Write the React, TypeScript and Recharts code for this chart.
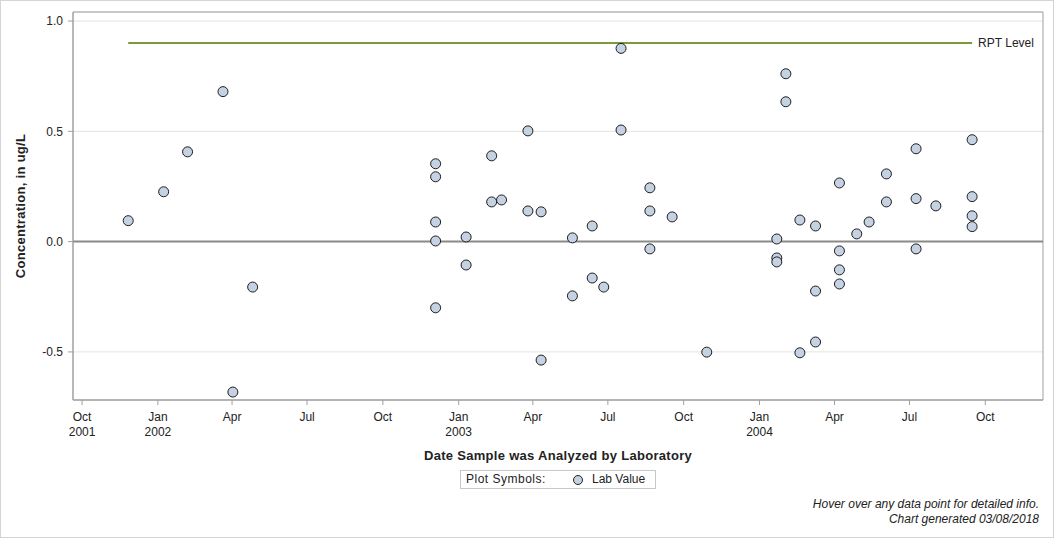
import React from 'react';
import {CartesianGrid, ReferenceArea, ReferenceLine, Scatter, ScatterChart, XAxis, YAxis} from 'recharts';

// lab results, one date per value
const sampleDates = [
  '2001-11-26', '2002-01-08', '2002-02-06', '2002-03-21', '2002-04-02', '2002-04-26',
  '2002-12-04', '2002-12-04', '2002-12-04', '2002-12-04', '2002-12-04',
  '2003-01-10', '2003-01-10', '2003-02-10', '2003-02-10', '2003-02-22',
  '2003-03-26', '2003-03-26', '2003-04-11', '2003-04-11', '2003-05-19', '2003-05-19',
  '2003-06-12', '2003-06-12', '2003-06-26', '2003-07-17', '2003-07-17',
  '2003-08-21', '2003-08-21', '2003-08-21', '2003-09-17', '2003-10-29',
  '2004-01-22', '2004-01-22', '2004-01-22', '2004-02-02', '2004-02-02',
  '2004-02-19', '2004-02-19', '2004-03-09', '2004-03-09', '2004-03-09',
  '2004-04-07', '2004-04-07', '2004-04-07', '2004-04-07', '2004-04-28', '2004-05-13',
  '2004-06-03', '2004-06-03', '2004-07-09', '2004-07-09', '2004-07-09', '2004-08-02',
  '2004-09-15', '2004-09-15', '2004-09-15', '2004-09-15',
];
const labValues = [
  0.095, 0.226, 0.407, 0.68, -0.682, -0.206,
  0.353, 0.294, 0.089, 0.003, -0.3,
  0.021, -0.106, 0.389, 0.18, 0.189,
  0.502, 0.139, 0.135, -0.537, 0.017, -0.246,
  0.071, -0.165, -0.206, 0.876, 0.506,
  0.244, 0.139, -0.033, 0.112, -0.501,
  0.012, -0.074, -0.092, 0.761, 0.634,
  0.098, -0.504, 0.071, -0.224, -0.455,
  0.266, -0.042, -0.128, -0.192, 0.035, 0.089,
  0.307, 0.18, 0.421, 0.195, -0.033, 0.162,
  0.462, 0.204, 0.117, 0.068,
];
const xTickDates = [
  '2001-10-01', '2002-01-01', '2002-04-01', '2002-07-01', '2002-10-01',
  '2003-01-01', '2003-04-01', '2003-07-01', '2003-10-01',
  '2004-01-01', '2004-04-01', '2004-07-01', '2004-10-01',
];
const xRange = ['2001-09-20', '2004-12-10'];
const yTicks = [-0.5, 0, 0.5, 1.0];
const yDomain = [-0.718, 1.041];
const rptLevel = 0.9;
const monthNames = ['Jan', 'Feb', 'Mar', 'Apr', 'May', 'Jun', 'Jul', 'Aug', 'Sep', 'Oct', 'Nov', 'Dec'];

const FONT = '"Liberation Sans", Arial, sans-serif';
const TEXT = '#222';
const FRAME = '#a0a0a0';

const toTime = (d: string) => {
  const [y, m, dd] = d.split('-').map(Number);
  return Date.UTC(y, m - 1, dd);
};

const points = sampleDates.map((d, i) => ({date: toTime(d), value: labValues[i]}));
const xTicks = xTickDates.map(toTime);
const xDomain = xRange.map(toTime);
const rptStart = Math.min(...points.map(p => p.date));
const rptEnd = Math.max(...points.map(p => p.date));

function DateTick({x, y, payload}: any) {
  const d = new Date(payload.value);
  const showYear = payload.value === xTicks[0] || d.getUTCMonth() === 0;
  return (
    <text x={x} y={y} textAnchor="middle" fill={TEXT} fontSize={12} fontFamily={FONT}>
      <tspan x={x} dy={14}>{monthNames[d.getUTCMonth()]}</tspan>
      {showYear && <tspan x={x} dy={15}>{d.getUTCFullYear()}</tspan>}
    </text>
  );
}

function Dot({cx, cy}: any) {
  return <circle cx={cx} cy={cy} r={5} fill="#c5d2e3" stroke="#1e1e1e" strokeWidth={1}/>;
}

const titleStyle: React.CSSProperties = {
  position: 'absolute', whiteSpace: 'nowrap', fontWeight: 'bold', fontSize: 13, letterSpacing: 0.3,
};

export default function App() {
  return (
    <div style={{position: 'absolute', left: 0, top: 0, width: 1056, height: 538, background: '#fff', fontFamily: FONT, color: TEXT}}>
      <div style={{position: 'absolute', left: 0, top: 0, width: 1052, height: 536, border: '1px solid #d4d4d4'}}/>
      <ScatterChart width={1056} height={538} margin={{top: 12, right: 13, left: 13, bottom: 98}}>
        <CartesianGrid horizontal vertical={false} stroke="#e3e3e3"/>
        <XAxis
          dataKey="date"
          type="number"
          domain={xDomain}
          ticks={xTicks}
          interval={0}
          allowDataOverflow
          height={40}
          tick={<DateTick/>}
          tickSize={5}
          stroke={FRAME}
        />
        <YAxis
          dataKey="value"
          type="number"
          domain={yDomain}
          ticks={yTicks}
          allowDataOverflow
          width={60}
          tickSize={5}
          tickMargin={5}
          stroke={FRAME}
          tick={{fill: TEXT, fontSize: 12, fontFamily: FONT}}
          tickFormatter={(v: number) => v.toFixed(1)}
        />
        <ReferenceArea x1={xDomain[0]} x2={xDomain[1]} y1={yDomain[0]} y2={yDomain[1]} fill="none" stroke={FRAME} ifOverflow="visible"/>
        <ReferenceLine y={0} stroke="#8a8a8a" strokeWidth={2}/>
        <ReferenceLine
          segment={[{x: rptStart, y: rptLevel}, {x: rptEnd, y: rptLevel}]}
          stroke="#7c9a3c"
          strokeWidth={2}
          label={{value: 'RPT Level', position: 'right', offset: 6, fill: TEXT, fontSize: 12, fontFamily: FONT}}
        />
        <Scatter data={points} shape={<Dot/>} isAnimationActive={false}/>
      </ScatterChart>

      <div style={{...titleStyle, left: 20, top: 206, transform: 'translate(-50%, -50%) rotate(-90deg)'}}>
        Concentration, in ug/L
      </div>
      <div style={{...titleStyle, left: 558, top: 455, transform: 'translate(-50%, -50%)'}}>
        Date Sample was Analyzed by Laboratory
      </div>

      <div style={{position: 'absolute', left: 460, top: 470, width: 194, height: 17, border: '1px solid #c8c8c8', fontSize: 12, lineHeight: '17px'}}>
        <span style={{position: 'absolute', left: 5, letterSpacing: 0.5}}>Plot Symbols:</span>
        <svg style={{position: 'absolute', left: 111, top: 3}} width={12} height={12}>
          <circle cx={6} cy={6} r={4.5} fill="#c5d2e3" stroke="#1e1e1e" strokeWidth={1}/>
        </svg>
        <span style={{position: 'absolute', left: 131}}>Lab Value</span>
      </div>

      <div style={{position: 'absolute', right: 17, top: 497, textAlign: 'right', fontStyle: 'italic', fontSize: 12, lineHeight: '15px', whiteSpace: 'nowrap'}}>
        <div>Hover over any data point for detailed info.</div>
        <div>Chart generated 03/08/2018</div>
      </div>
    </div>
  );
}
